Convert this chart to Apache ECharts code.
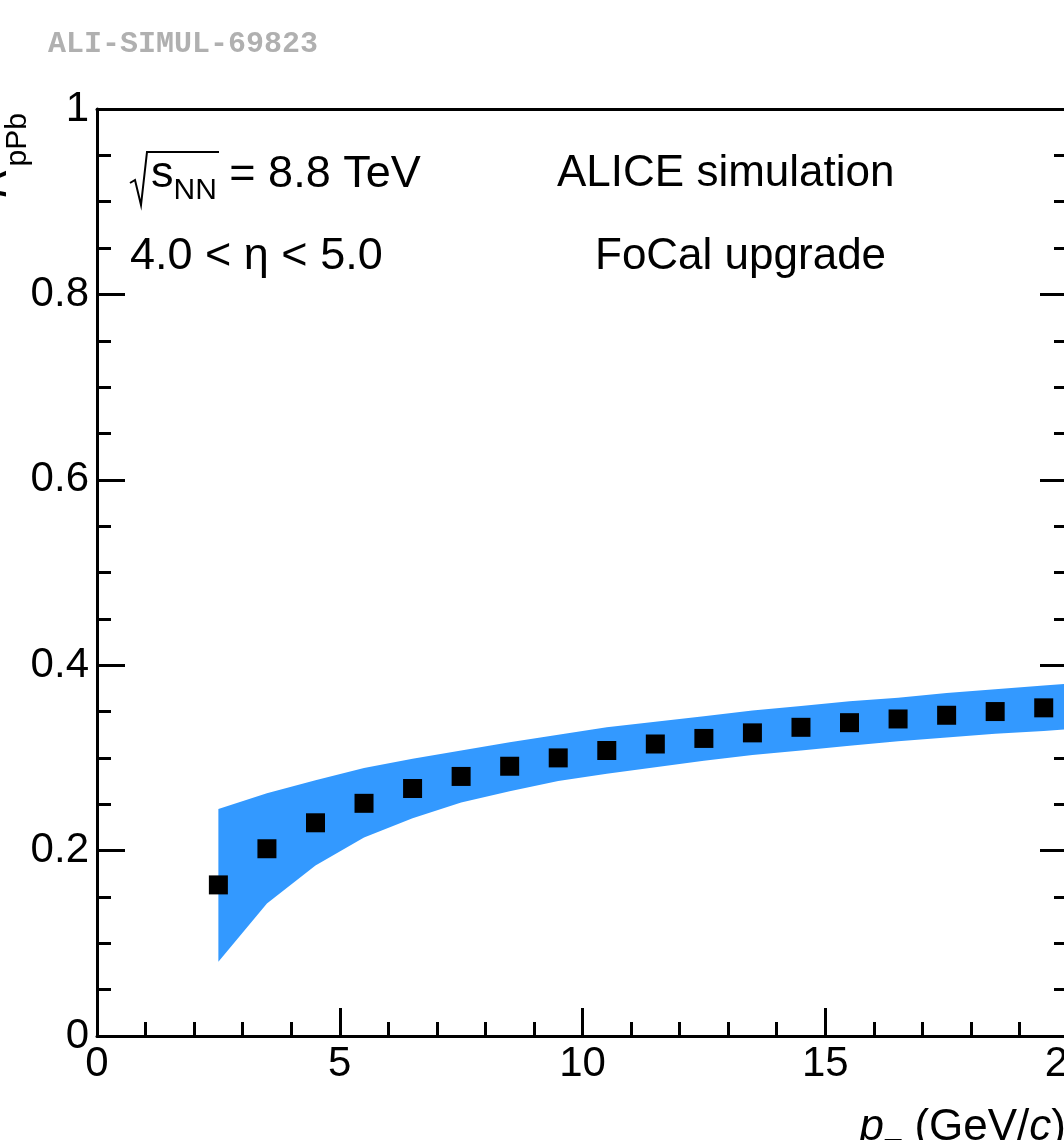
<!DOCTYPE html>
<html>
<head>
<meta charset="utf-8">
<script src="https://cdn.jsdelivr.net/npm/echarts@6/dist/echarts.min.js"></script>
<style>
  html, body { margin: 0; padding: 0; background: #fff; }
  #rpPb { width: 1064px; height: 1140px; }
</style>
</head>
<body>
<div id="rpPb"></div>
<script>
// points (bin centres in pT) and R_pPb values
const ptBins = [2.5, 3.5, 4.5, 5.5, 6.5, 7.5, 8.5, 9.5, 10.5, 11.5, 12.5, 13.5, 14.5, 15.5, 16.5, 17.5, 18.5, 19.5];
const rpPbValues = [0.163, 0.202, 0.230, 0.251, 0.267, 0.280, 0.291, 0.300, 0.308, 0.315, 0.321, 0.327, 0.333, 0.338, 0.342, 0.346, 0.350, 0.354];

// uncertainty band (upper / lower edge)
const bandPt = [2.5, 3.5, 4.5, 5.5, 6.5, 7.5, 8.5, 9.5, 10.5, 11.5, 12.5, 13.5, 14.5, 15.5, 16.5, 17.5, 18.5, 19.5, 20];
const bandHigh = [0.245, 0.262, 0.276, 0.289, 0.299, 0.308, 0.317, 0.325, 0.333, 0.339, 0.345, 0.351, 0.356, 0.361, 0.365, 0.370, 0.374, 0.378, 0.380];
const bandLow = [0.080, 0.143, 0.184, 0.214, 0.235, 0.252, 0.264, 0.275, 0.283, 0.290, 0.297, 0.303, 0.308, 0.313, 0.318, 0.322, 0.326, 0.329, 0.331];

const yTicks = [0, 0.2, 0.4, 0.6, 0.8, 1];
const xTicks = [0, 5, 10, 15, 20];

const FONT = "Liberation Sans";

let chart = echarts.init(document.getElementById("rpPb"), null, { renderer: "canvas" });

const bandData = bandPt.map((x, i) => [x, bandLow[i], bandHigh[i]]);
const pointData = ptBins.map((x, i) => [x, rpPbValues[i]]);

const tickStyle = { color: "#000", width: 3 };
const frameLine = { show: true, onZero: false, lineStyle: { color: "#000", width: 3 } };

// whole band drawn as one polygon: upper edge left->right, lower edge back
function renderBand(params, api) {
  if (params.dataIndex !== 0) return;
  const pts = [];
  for (let i = 0; i < bandPt.length; i++) pts.push(api.coord([bandPt[i], bandHigh[i]]));
  for (let i = bandPt.length - 1; i >= 0; i--) pts.push(api.coord([bandPt[i], bandLow[i]]));
  return {
    type: "polygon",
    shape: { points: pts },
    style: { fill: "#3399ff", stroke: null }
  };
}

chart.setOption({
  animation: false,
  backgroundColor: "#fff",
  grid: { left: 97, top: 109, right: -4, bottom: 104, containLabel: false, outerBoundsMode: "none" },
  xAxis: [
    {
      type: "value",
      min: xTicks[0],
      max: xTicks[xTicks.length - 1],
      interval: 5,
      position: "bottom",
      axisLine: frameLine,
      axisTick: { show: true, inside: true, length: 28, lineStyle: tickStyle },
      minorTick: { show: true, splitNumber: 5, length: 14, lineStyle: tickStyle },
      splitLine: { show: false },
      axisLabel: {
        color: "#000", fontFamily: FONT, fontSize: 42, margin: 7,
        formatter: v => String(v)
      }
    },
    {
      type: "value",
      min: 0, max: 20,
      position: "top",
      axisLine: frameLine,
      axisTick: { show: false },
      axisLabel: { show: false },
      splitLine: { show: false }
    }
  ],
  yAxis: [
    {
      type: "value",
      min: yTicks[0],
      max: yTicks[yTicks.length - 1],
      interval: 0.2,
      position: "left",
      axisLine: frameLine,
      axisTick: { show: true, inside: true, length: 28, lineStyle: tickStyle },
      minorTick: { show: true, splitNumber: 4, length: 14, lineStyle: tickStyle },
      splitLine: { show: false },
      axisLabel: {
        color: "#000", fontFamily: FONT, fontSize: 42, margin: 8,
        formatter: v => String(+v.toFixed(1))
      }
    },
    {
      type: "value",
      min: 0, max: 1, interval: 0.2,
      position: "right",
      axisLine: frameLine,
      axisTick: { show: true, inside: true, length: 28, lineStyle: tickStyle },
      minorTick: { show: true, splitNumber: 4, length: 14, lineStyle: tickStyle },
      splitLine: { show: false },
      axisLabel: { show: false }
    }
  ],
  series: [
    {
      name: "band",
      type: "custom",
      renderItem: renderBand,
      data: bandData,
      encode: { x: 0, y: [1, 2] },
      z: 1,
      silent: true
    },
    {
      name: "RpPb",
      type: "scatter",
      data: pointData,
      symbol: "rect",
      symbolSize: 19,
      itemStyle: { color: "#000", opacity: 1 },
      z: 5
    }
  ],
  graphic: [
    {
      type: "text", x: 48, y: 44,
      style: {
        text: "ALI-SIMUL-69823", fill: "#b0b0b0",
        font: "bold 30px 'Liberation Mono'", verticalAlign: "middle"
      }
    },
    // sqrt sign
    {
      type: "polyline",
      shape: { points: [[130, 183], [135, 180], [141, 205], [147, 152], [219, 152]] },
      style: { stroke: "#000", lineWidth: 2, fill: null }
    },
    {
      type: "text", x: 151, y: 152,
      style: {
        text: "{m|s}{sub|NN}{m| = 8.8 TeV}",
        verticalAlign: "top",
        rich: {
          m: { fontFamily: FONT, fontSize: 45, lineHeight: 44, verticalAlign: "top", fill: "#000" },
          sub: { fontFamily: FONT, fontSize: 30, lineHeight: 30, verticalAlign: "top", padding: [24, 0, 0, 0], fill: "#000" }
        }
      }
    },
    {
      type: "text", x: 130, y: 257,
      style: { text: "4.0 < η < 5.0", font: "45px " + FONT, fill: "#000", verticalAlign: "middle" }
    },
    {
      type: "text", x: 557, y: 174,
      style: { text: "ALICE simulation", font: "44px " + FONT, fill: "#000", verticalAlign: "middle" }
    },
    {
      type: "text", x: 595, y: 257,
      style: { text: "FoCal upgrade", font: "44px " + FONT, fill: "#000", verticalAlign: "middle" }
    },
    // y axis title (rotated)
    {
      type: "text", x: 18, y: 113, rotation: Math.PI / 2,
      style: { text: "pPb", font: "30px " + FONT, fill: "#000", align: "right", verticalAlign: "middle" }
    },
    {
      type: "text", x: -6, y: 166, rotation: Math.PI / 2,
      style: { text: "R", font: "italic 44px " + FONT, fill: "#000", align: "right", verticalAlign: "middle" }
    },
    // x axis title
    {
      type: "text", x: 1066, y: 1106,
      style: {
        text: "{i|p}{sub|T}{m| (GeV/}{i|c}{m|)}",
        align: "right", verticalAlign: "top",
        rich: {
          m: { fontFamily: FONT, fontSize: 44, lineHeight: 44, verticalAlign: "top", fill: "#000" },
          i: { fontFamily: FONT, fontStyle: "italic", fontSize: 44, lineHeight: 44, verticalAlign: "top", fill: "#000" },
          sub: { fontFamily: FONT, fontSize: 30, lineHeight: 30, verticalAlign: "top", padding: [30, 0, 0, 0], fill: "#000" }
        }
      }
    }
  ]
});

window.addEventListener("resize", function() {
  chart.resize();
});
</script>
</body>
</html>
